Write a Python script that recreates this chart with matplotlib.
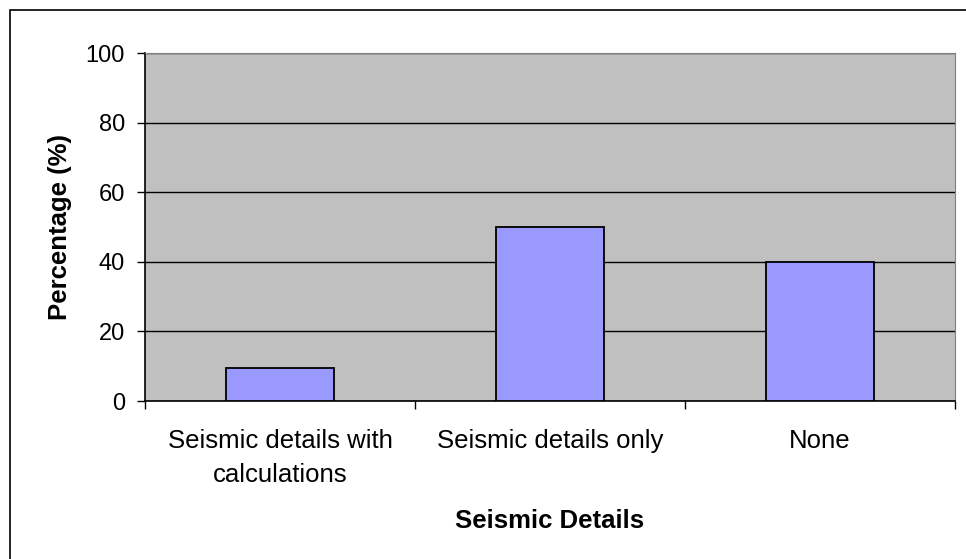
import matplotlib.pyplot as plt
from matplotlib.patches import Rectangle

categories = ['Seismic details with\ncalculations', 'Seismic details only', 'None']
percentages = [9.5, 50, 40]
y_ticks = [0, 20, 40, 60, 80, 100]

plt.rcParams['font.family'] = ['Liberation Sans', 'DejaVu Sans']

fig = plt.figure(figsize=(9.66, 5.59), dpi=100)
ax = fig.add_axes([145 / 966, 1 - 401 / 559, 810 / 966, 348 / 559])

# outer chart frame, cut off at the right and bottom edges
fig.patches.append(Rectangle((10 / 966, -0.02), 1.0, 1 - 10 / 559 + 0.02,
                             transform=fig.transFigure, fill=False,
                             edgecolor='black', linewidth=1.2))

ax.set_facecolor('#C0C0C0')
x = range(len(categories))
ax.bar(x, percentages, width=0.4, color='#9999FF', edgecolor='black',
       linewidth=1.3, zorder=3)

ax.set_xlim(-0.5, len(categories) - 0.5)
ax.set_ylim(0, 100)
ax.set_yticks(y_ticks)
ax.yaxis.grid(True, color='black', linewidth=1.0, zorder=0)
ax.set_axisbelow(True)

# ticks sit between the categories, labels centred under the bars
ax.set_xticks([i - 0.5 for i in range(len(categories) + 1)])
ax.set_xticklabels([])
ax.set_xticks(list(x), minor=True)
ax.set_xticklabels(categories, minor=True, fontsize=18.5, linespacing=1.55)
ax.tick_params(axis='x', which='minor', length=0, pad=20)
ax.tick_params(axis='x', which='major', length=6, direction='out', width=1)
ax.tick_params(axis='y', length=6, direction='out', width=1, labelsize=17, pad=8.5)

for side in ['top', 'right']:
    ax.spines[side].set_color('#808080')
ax.spines['left'].set_linewidth(1.2)
ax.spines['bottom'].set_linewidth(1.2)

ax.set_ylabel('Percentage (%)', fontsize=18.5, fontweight='bold', labelpad=9.5)
ax.set_xlabel('Seismic Details', fontsize=18.5, fontweight='bold', labelpad=16)

fig.savefig('out.png', dpi=100)
